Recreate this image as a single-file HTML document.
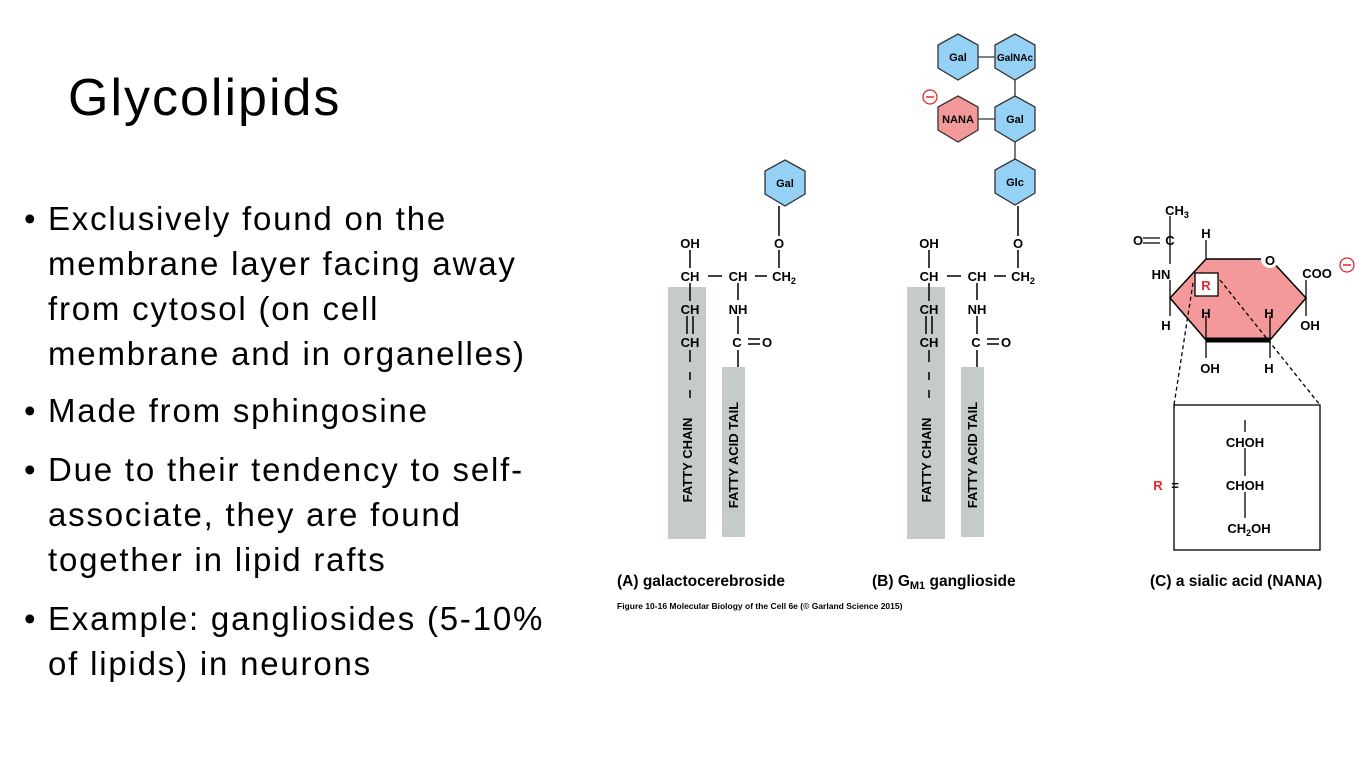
<!DOCTYPE html>
<html><head><meta charset="utf-8"><style>
body{margin:0;width:1365px;height:763px;background:#fff;overflow:hidden;position:relative;font-family:"Liberation Sans",sans-serif}
.t{position:absolute;white-space:nowrap;color:#000}
#title{left:68px;top:68px;font-size:52px;letter-spacing:2px}
.b{position:absolute;left:48px;font-size:33px;letter-spacing:1.8px;line-height:45px;white-space:nowrap}
.dot{position:absolute;left:-24px;letter-spacing:0}
svg{position:absolute;left:0;top:0}
svg text{font-family:"Liberation Sans",sans-serif;font-weight:bold}
</style></head><body>
<div class="t" id="title">Glycolipids</div>
<div class="b" style="top:196px"><span class="dot">•</span>Exclusively found on the<br>membrane layer facing away<br>from cytosol (on cell<br>membrane and in organelles)</div>
<div class="b" style="top:388px"><span class="dot">•</span>Made from sphingosine</div>
<div class="b" style="top:447px"><span class="dot">•</span>Due to their tendency to self-<br>associate, they are found<br>together in lipid rafts</div>
<div class="b" style="top:596px"><span class="dot">•</span>Example: gangliosides (5-10%<br>of lipids) in neurons</div>
<svg width="1365" height="763">
<defs>
<g id="chain">
<rect x="668" y="287" width="38" height="252" fill="#c5ccc8"/>
<rect x="722" y="367" width="23" height="170" fill="#c5ccc8"/>
<g stroke="#000" stroke-width="1.5" fill="none">
<line x1="690" y1="250" x2="690" y2="268"/><line x1="690" y1="283" x2="690" y2="301"/>
<line x1="687" y1="316" x2="687" y2="334"/><line x1="693" y1="316" x2="693" y2="334"/>
<line x1="690" y1="350" x2="690" y2="362"/><line x1="690" y1="372" x2="690" y2="380"/><line x1="690" y1="390" x2="690" y2="398"/>
<line x1="708" y1="276" x2="722" y2="276"/><line x1="755" y1="276" x2="767" y2="276"/>
<line x1="738" y1="283" x2="738" y2="300"/><line x1="738" y1="316" x2="738" y2="334"/>
<line x1="738" y1="350" x2="738" y2="367"/>
<line x1="748" y1="339" x2="760" y2="339"/><line x1="748" y1="344" x2="760" y2="344"/>
<line x1="779" y1="250" x2="779" y2="268"/><line x1="779" y1="206" x2="779" y2="236"/>
</g>
<g font-size="13" text-anchor="middle">
<text x="690" y="248">OH</text><text x="690" y="281">CH</text><text x="690" y="314">CH</text><text x="690" y="347">CH</text>
<text x="738" y="281">CH</text><text x="784" y="281">CH<tspan font-size="9" dy="3">2</tspan></text>
<text x="779" y="248">O</text><text x="738" y="314">NH</text><text x="737" y="347">C</text><text x="767" y="347">O</text>
<text transform="translate(692,460) rotate(-90)">FATTY CHAIN</text>
<text transform="translate(738,455) rotate(-90)">FATTY ACID TAIL</text>
</g>
</g>
</defs>
<use href="#chain"/>
<use href="#chain" transform="translate(239,0)"/>
<g stroke="#333" stroke-width="1.3" fill="#95d1f5">
<polygon points="785,160 805,171 805,194 785,206 765,194 765,171"/>
<polygon points="1015,159 1035,170 1035,193 1015,205 995,193 995,170"/>
<polygon points="1015,96 1035,107 1035,130 1015,142 995,130 995,107"/>
<polygon points="958,34 978,45 978,68 958,80 938,68 938,45"/>
<polygon points="1015,34 1035,45 1035,68 1015,80 995,68 995,45"/>
<polygon points="958,96 978,107 978,130 958,142 938,130 938,107" fill="#f4999a"/>
<line x1="1015" y1="80" x2="1015" y2="96"/><line x1="1015" y1="142" x2="1015" y2="159"/><line x1="978" y1="119" x2="995" y2="119"/><line x1="978" y1="57" x2="995" y2="57"/>
</g>
<g font-size="11" text-anchor="middle">
<text x="785" y="187">Gal</text><text x="1015" y="186">Glc</text><text x="1015" y="123">Gal</text><text x="958" y="123">NANA</text><text x="958" y="61">Gal</text><text x="1015" y="61" font-size="10">GalNAc</text>
</g>
<circle cx="930" cy="97" r="7" fill="#fff" stroke="#e0282d" stroke-width="1.3"/><line x1="926" y1="97" x2="934" y2="97" stroke="#e0282d" stroke-width="1.5"/>
<polygon points="1206,259 1270,259 1306,298 1270,340 1206,340 1170,298" fill="#f4999a" stroke="#000" stroke-width="1.5"/>
<line x1="1206" y1="340" x2="1270" y2="340" stroke="#000" stroke-width="5"/>
<circle cx="1270" cy="259" r="9" fill="#fff"/>
<rect x="1195" y="273" width="23" height="23" fill="#fff" stroke="#000" stroke-width="1.3"/>
<g stroke="#000" stroke-width="1.3" stroke-dasharray="4,3" fill="none">
<line x1="1193" y1="283" x2="1174" y2="405"/><line x1="1220" y1="280" x2="1320" y2="405"/>
</g>
<rect x="1174" y="405" width="146" height="145" fill="#fff" stroke="#000" stroke-width="1.3"/>
<g stroke="#000" stroke-width="1.3">
<line x1="1206" y1="240" x2="1206" y2="259"/><line x1="1170" y1="232" x2="1170" y2="264"/><line x1="1170" y1="280" x2="1170" y2="316"/>
<line x1="1143" y1="238" x2="1160" y2="238"/><line x1="1143" y1="243" x2="1160" y2="243"/><line x1="1170" y1="216" x2="1170" y2="232"/>
<line x1="1206" y1="316" x2="1206" y2="358"/><line x1="1270" y1="316" x2="1270" y2="358"/><line x1="1306" y1="280" x2="1306" y2="316"/>
<line x1="1245" y1="448" x2="1245" y2="476"/><line x1="1245" y1="492" x2="1245" y2="518"/><line x1="1245" y1="420" x2="1245" y2="432"/>
</g>
<g font-size="13" text-anchor="middle">
<text x="1177" y="215">CH<tspan font-size="9" dy="3">3</tspan></text><text x="1138" y="245">O</text><text x="1170" y="245">C</text>
<text x="1206" y="238">H</text><text x="1161" y="279">HN</text><text x="1166" y="330">H</text><text x="1270" y="265">O</text>
<text x="1317" y="278">COO</text><text x="1310" y="330">OH</text><text x="1206" y="318">H</text><text x="1269" y="318">H</text>
<text x="1210" y="373">OH</text><text x="1269" y="373">H</text><text x="1206" y="290" fill="#e0282d">R</text>
<text x="1245" y="447">CHOH</text><text x="1245" y="490">CHOH</text><text x="1249" y="533">CH<tspan font-size="9" dy="3">2</tspan><tspan dy="-3">OH</tspan></text>
<text x="1158" y="490" fill="#e0282d">R</text><text x="1175" y="490">=</text>
</g>
<circle cx="1347" cy="265" r="7" fill="#fff" stroke="#e0282d" stroke-width="1.3"/><line x1="1343" y1="265" x2="1351" y2="265" stroke="#e0282d" stroke-width="1.5"/>
<g font-size="15.5">
<text x="617" y="586">(A) galactocerebroside</text>
<text x="872" y="586">(B) G<tspan font-size="11" dy="3">M1</tspan><tspan dy="-3"> ganglioside</tspan></text>
<text x="1150" y="586">(C) a sialic acid (NANA)</text>
</g>
<text x="617" y="609" font-size="8.5" font-weight="normal">Figure 10-16 Molecular Biology of the Cell 6e (© Garland Science 2015)</text>
</svg>
</body></html>
